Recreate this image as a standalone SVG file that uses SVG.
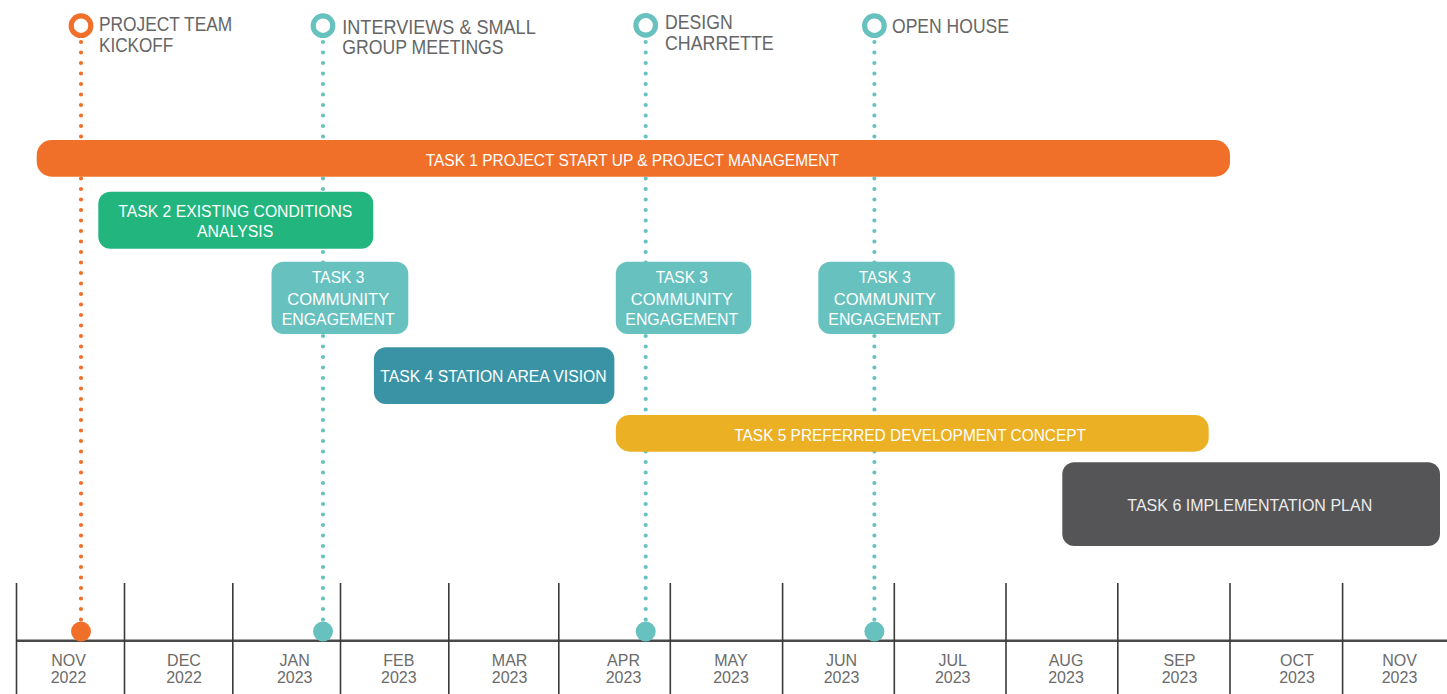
<svg xmlns="http://www.w3.org/2000/svg" width="1447" height="694" viewBox="0 0 1447 694">
<style>
.lbl{font-family:"Liberation Sans",Arial,sans-serif;font-size:19.5px;fill:#666666;}
.tsk{font-family:"Liberation Sans",Arial,sans-serif;font-size:16.8px;fill:#ffffff;}
.mon{font-family:"Liberation Sans",Arial,sans-serif;font-size:16px;fill:#6b6b6b;text-anchor:middle;}
.dot-o{stroke:#F07029;stroke-width:4.2;stroke-linecap:round;stroke-dasharray:0 10.5;fill:none;}
.dot-t{stroke:#66C1BF;stroke-width:4.2;stroke-linecap:round;stroke-dasharray:0 10.5;fill:none;}
.ring-o{fill:#ffffff;stroke:#F07029;stroke-width:5.2;}
.ring-t{fill:#ffffff;stroke:#66C1BF;stroke-width:5.2;}
.tick{stroke:#3a3a3a;stroke-width:1.6;}
.t3{fill:#66C1BF;}
</style>
<rect width="1447" height="694" fill="#ffffff"/>

<g id="connectors">
<line class="dot-o" x1="81" y1="42" x2="81" y2="620.5"/>
<line class="dot-t" x1="323" y1="42" x2="323" y2="620.5"/>
<line class="dot-t" x1="645.7" y1="42" x2="645.7" y2="620.5"/>
<line class="dot-t" x1="874.4" y1="42" x2="874.4" y2="620.5"/>
</g>

<g id="timeline-axis">
<line x1="16.5" y1="640.7" x2="1447" y2="640.7" stroke="#4a4a4a" stroke-width="2.4"/>
<line class="tick" x1="16.5" y1="583" x2="16.5" y2="694"/>
<line class="tick" x1="124.5" y1="583" x2="124.5" y2="694"/>
<line class="tick" x1="232.8" y1="583" x2="232.8" y2="694"/>
<line class="tick" x1="340.5" y1="583" x2="340.5" y2="694"/>
<line class="tick" x1="448.8" y1="583" x2="448.8" y2="694"/>
<line class="tick" x1="558.8" y1="583" x2="558.8" y2="694"/>
<line class="tick" x1="670.3" y1="583" x2="670.3" y2="694"/>
<line class="tick" x1="782.6" y1="583" x2="782.6" y2="694"/>
<line class="tick" x1="894.3" y1="583" x2="894.3" y2="694"/>
<line class="tick" x1="1006" y1="583" x2="1006" y2="694"/>
<line class="tick" x1="1117.8" y1="583" x2="1117.8" y2="694"/>
<line class="tick" x1="1230" y1="583" x2="1230" y2="694"/>
<line class="tick" x1="1342.6" y1="583" x2="1342.6" y2="694"/>
<text class="mon" x="68.5" y="665.7">NOV</text><text class="mon" x="68.5" y="683.3">2022</text>
<text class="mon" x="184" y="665.7">DEC</text><text class="mon" x="184" y="683.3">2022</text>
<text class="mon" x="294.7" y="665.7">JAN</text><text class="mon" x="294.7" y="683.3">2023</text>
<text class="mon" x="398.8" y="665.7">FEB</text><text class="mon" x="398.8" y="683.3">2023</text>
<text class="mon" x="509.6" y="665.7">MAR</text><text class="mon" x="509.6" y="683.3">2023</text>
<text class="mon" x="623.5" y="665.7">APR</text><text class="mon" x="623.5" y="683.3">2023</text>
<text class="mon" x="731" y="665.7">MAY</text><text class="mon" x="731" y="683.3">2023</text>
<text class="mon" x="841.5" y="665.7">JUN</text><text class="mon" x="841.5" y="683.3">2023</text>
<text class="mon" x="952.7" y="665.7">JUL</text><text class="mon" x="952.7" y="683.3">2023</text>
<text class="mon" x="1066" y="665.7">AUG</text><text class="mon" x="1066" y="683.3">2023</text>
<text class="mon" x="1179.5" y="665.7">SEP</text><text class="mon" x="1179.5" y="683.3">2023</text>
<text class="mon" x="1297" y="665.7">OCT</text><text class="mon" x="1297" y="683.3">2023</text>
<text class="mon" x="1399.5" y="665.7">NOV</text><text class="mon" x="1399.5" y="683.3">2023</text>
</g>

<g id="milestone-kickoff">
<circle class="ring-o" cx="81" cy="25.7" r="9.8"/>
<text class="lbl" x="99" y="30.7" textLength="133.3" lengthAdjust="spacingAndGlyphs">PROJECT TEAM</text>
<text class="lbl" x="99" y="51.7" textLength="74.3" lengthAdjust="spacingAndGlyphs">KICKOFF</text>
<circle cx="81" cy="631.5" r="10" fill="#F07029"/>
</g>

<g id="milestone-interviews">
<circle class="ring-t" cx="323" cy="25.7" r="9.8"/>
<text class="lbl" x="342.3" y="33.7" textLength="193.4" lengthAdjust="spacingAndGlyphs">INTERVIEWS &amp; SMALL</text>
<text class="lbl" x="342.3" y="54.3" textLength="161.3" lengthAdjust="spacingAndGlyphs">GROUP MEETINGS</text>
<circle cx="323" cy="631.5" r="10" fill="#66C1BF"/>
</g>

<g id="milestone-charrette">
<circle class="ring-t" cx="645.7" cy="25.3" r="9.8"/>
<text class="lbl" x="665" y="29" textLength="67.7" lengthAdjust="spacingAndGlyphs">DESIGN</text>
<text class="lbl" x="665" y="49.5" textLength="108.7" lengthAdjust="spacingAndGlyphs">CHARRETTE</text>
<circle cx="645.7" cy="631.5" r="10" fill="#66C1BF"/>
</g>

<g id="milestone-openhouse">
<circle class="ring-t" cx="874.4" cy="25.7" r="9.8"/>
<text class="lbl" x="892" y="33.3" textLength="117" lengthAdjust="spacingAndGlyphs">OPEN HOUSE</text>
<circle cx="874.4" cy="631.5" r="10" fill="#66C1BF"/>
</g>

<g id="task1">
<rect x="36.7" y="140" width="1193.3" height="36.7" rx="15" fill="#F07029"/>
<text class="tsk" x="425.7" y="165.7" textLength="413.3" lengthAdjust="spacingAndGlyphs">TASK 1 PROJECT START UP &amp; PROJECT MANAGEMENT</text>
</g>

<g id="task2">
<rect x="98.3" y="191.7" width="275" height="57" rx="12" fill="#22B57E"/>
<text class="tsk" x="118.3" y="216.7" textLength="234" lengthAdjust="spacingAndGlyphs">TASK 2 EXISTING CONDITIONS</text>
<text class="tsk" x="197" y="236.7" textLength="76.3" lengthAdjust="spacingAndGlyphs">ANALYSIS</text>
</g>

<g id="task3-a">
<rect class="t3" x="271.5" y="261.7" width="136.8" height="72.3" rx="12"/>
<text class="tsk" x="338.2" y="283.3" text-anchor="middle" textLength="52.3" lengthAdjust="spacingAndGlyphs">TASK 3</text>
<text class="tsk" x="338.2" y="304.5" text-anchor="middle" textLength="102" lengthAdjust="spacingAndGlyphs">COMMUNITY</text>
<text class="tsk" x="338.2" y="325.3" text-anchor="middle" textLength="113" lengthAdjust="spacingAndGlyphs">ENGAGEMENT</text>
</g>

<g id="task3-b">
<rect class="t3" x="615.8" y="261.7" width="135.5" height="72.3" rx="12"/>
<text class="tsk" x="681.8" y="283.3" text-anchor="middle" textLength="52.3" lengthAdjust="spacingAndGlyphs">TASK 3</text>
<text class="tsk" x="681.8" y="304.5" text-anchor="middle" textLength="102" lengthAdjust="spacingAndGlyphs">COMMUNITY</text>
<text class="tsk" x="681.8" y="325.3" text-anchor="middle" textLength="113" lengthAdjust="spacingAndGlyphs">ENGAGEMENT</text>
</g>

<g id="task3-c">
<rect class="t3" x="818.3" y="261.7" width="136.4" height="72.3" rx="12"/>
<text class="tsk" x="884.8" y="283.3" text-anchor="middle" textLength="52.3" lengthAdjust="spacingAndGlyphs">TASK 3</text>
<text class="tsk" x="884.8" y="304.5" text-anchor="middle" textLength="102" lengthAdjust="spacingAndGlyphs">COMMUNITY</text>
<text class="tsk" x="884.8" y="325.3" text-anchor="middle" textLength="113" lengthAdjust="spacingAndGlyphs">ENGAGEMENT</text>
</g>

<g id="task4">
<rect x="373.9" y="347.3" width="240.5" height="56.7" rx="12" fill="#3A93A5"/>
<text class="tsk" x="380.3" y="382.3" textLength="226.3" lengthAdjust="spacingAndGlyphs">TASK 4 STATION AREA VISION</text>
</g>

<g id="task5">
<rect x="615.8" y="415" width="592.9" height="36.7" rx="14" fill="#EBB024"/>
<text class="tsk" x="734.3" y="440.7" textLength="351.7" lengthAdjust="spacingAndGlyphs">TASK 5 PREFERRED DEVELOPMENT CONCEPT</text>
</g>

<g id="task6">
<rect x="1062.3" y="462.3" width="377.7" height="83.7" rx="12" fill="#555557"/>
<text class="tsk" x="1127.3" y="511" textLength="245" lengthAdjust="spacingAndGlyphs" style="fill:#ececec">TASK 6 IMPLEMENTATION PLAN</text>
</g>
</svg>
